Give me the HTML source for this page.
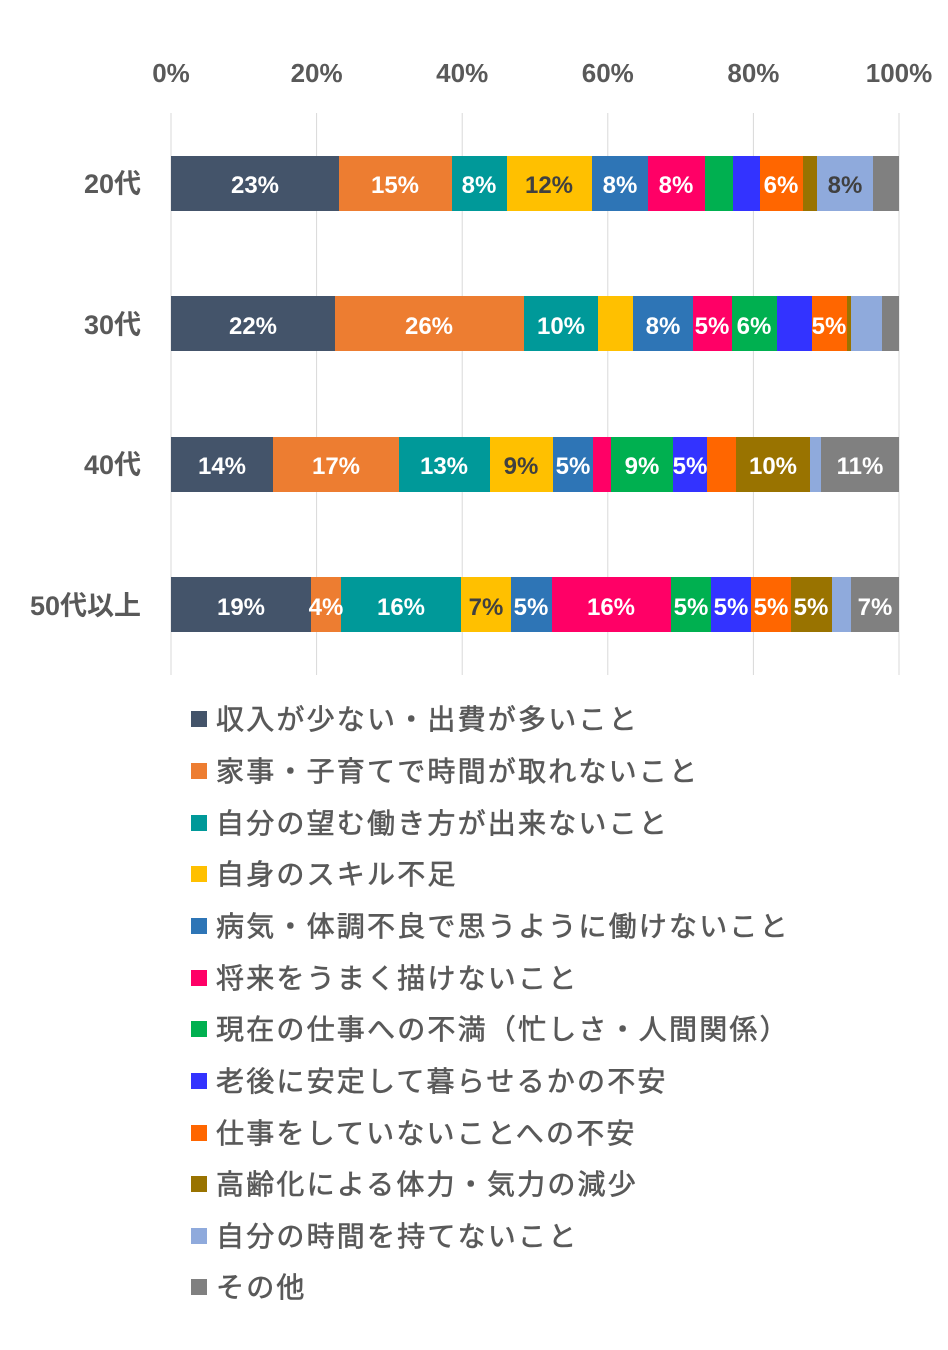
<!DOCTYPE html>
<html><head><meta charset="utf-8"><style>
body{margin:0;background:#fff;}
svg{display:block}
.ax{font-family:"Liberation Sans","Noto Sans CJK JP",sans-serif;font-weight:bold;fill:#595959;font-size:26px}
.bl{font-family:"Liberation Sans",sans-serif;font-weight:bold;font-size:24px;fill:#fff;text-anchor:middle}
.dk{fill:#404040}
.lg{font-family:"Noto Sans CJK JP",sans-serif;font-size:28px;fill:#595959;stroke:#595959;stroke-width:0.6px;letter-spacing:2.2px}
</style></head><body>
<svg width="948" height="1350" xmlns="http://www.w3.org/2000/svg">
<g stroke="#d9d9d9" stroke-width="1">
<line x1="171" y1="113" x2="171" y2="675"/><line x1="316.6" y1="113" x2="316.6" y2="675"/><line x1="462.2" y1="113" x2="462.2" y2="675"/><line x1="607.8" y1="113" x2="607.8" y2="675"/><line x1="753.4" y1="113" x2="753.4" y2="675"/><line x1="899" y1="113" x2="899" y2="675"/>
</g>
<g class="ax" text-anchor="middle">
<text x="171" y="82">0%</text><text x="316.6" y="82">20%</text><text x="462.2" y="82">40%</text><text x="607.8" y="82">60%</text><text x="753.4" y="82">80%</text><text x="899" y="82">100%</text>
</g>
<g class="ax" text-anchor="end" style="font-size:27px">
<text x="141" y="193">20代</text><text x="141" y="334">30代</text><text x="141" y="474">40代</text><text x="141" y="615">50代以上</text>
</g>
<!-- row1 -->
<g>
<rect x="171" y="156" width="168" height="55" fill="#44546a"/>
<rect x="339" y="156" width="113" height="55" fill="#ed7d31"/>
<rect x="452" y="156" width="55" height="55" fill="#009999"/>
<rect x="507" y="156" width="85" height="55" fill="#ffc000"/>
<rect x="592" y="156" width="56" height="55" fill="#2e75b6"/>
<rect x="648" y="156" width="57" height="55" fill="#ff0066"/>
<rect x="705" y="156" width="28" height="55" fill="#00b050"/>
<rect x="733" y="156" width="27" height="55" fill="#3333ff"/>
<rect x="760" y="156" width="43" height="55" fill="#ff6600"/>
<rect x="803" y="156" width="14" height="55" fill="#997300"/>
<rect x="817" y="156" width="56" height="55" fill="#8faadc"/>
<rect x="873" y="156" width="26" height="55" fill="#808080"/>
<text class="bl" x="255" y="193">23%</text><text class="bl" x="395" y="193">15%</text><text class="bl" x="479" y="193">8%</text><text class="bl dk" x="549" y="193">12%</text><text class="bl" x="620" y="193">8%</text><text class="bl" x="676" y="193">8%</text><text class="bl" x="781" y="193">6%</text><text class="bl dk" x="845" y="193">8%</text>
</g>
<!-- row2 -->
<g>
<rect x="171" y="296" width="164" height="55" fill="#44546a"/>
<rect x="335" y="296" width="189" height="55" fill="#ed7d31"/>
<rect x="524" y="296" width="74" height="55" fill="#009999"/>
<rect x="598" y="296" width="35" height="55" fill="#ffc000"/>
<rect x="633" y="296" width="60" height="55" fill="#2e75b6"/>
<rect x="693" y="296" width="39" height="55" fill="#ff0066"/>
<rect x="732" y="296" width="45" height="55" fill="#00b050"/>
<rect x="777" y="296" width="35" height="55" fill="#3333ff"/>
<rect x="812" y="296" width="35" height="55" fill="#ff6600"/>
<rect x="847" y="296" width="4" height="55" fill="#997300"/>
<rect x="851" y="296" width="31" height="55" fill="#8faadc"/>
<rect x="882" y="296" width="17" height="55" fill="#808080"/>
<text class="bl" x="253" y="334">22%</text><text class="bl" x="429" y="334">26%</text><text class="bl" x="561" y="334">10%</text><text class="bl" x="663" y="334">8%</text><text class="bl" x="712" y="334">5%</text><text class="bl" x="754" y="334">6%</text><text class="bl" x="829" y="334">5%</text>
</g>
<!-- row3 -->
<g>
<rect x="171" y="437" width="102" height="55" fill="#44546a"/>
<rect x="273" y="437" width="126" height="55" fill="#ed7d31"/>
<rect x="399" y="437" width="91" height="55" fill="#009999"/>
<rect x="490" y="437" width="63" height="55" fill="#ffc000"/>
<rect x="553" y="437" width="40" height="55" fill="#2e75b6"/>
<rect x="593" y="437" width="18" height="55" fill="#ff0066"/>
<rect x="611" y="437" width="62" height="55" fill="#00b050"/>
<rect x="673" y="437" width="34" height="55" fill="#3333ff"/>
<rect x="707" y="437" width="29" height="55" fill="#ff6600"/>
<rect x="736" y="437" width="74" height="55" fill="#997300"/>
<rect x="810" y="437" width="11" height="55" fill="#8faadc"/>
<rect x="821" y="437" width="78" height="55" fill="#808080"/>
<text class="bl" x="222" y="474">14%</text><text class="bl" x="336" y="474">17%</text><text class="bl" x="444" y="474">13%</text><text class="bl dk" x="521" y="474">9%</text><text class="bl" x="573" y="474">5%</text><text class="bl" x="642" y="474">9%</text><text class="bl" x="690" y="474">5%</text><text class="bl" x="773" y="474">10%</text><text class="bl" x="860" y="474">11%</text>
</g>
<!-- row4 -->
<g>
<rect x="171" y="577" width="140" height="55" fill="#44546a"/>
<rect x="311" y="577" width="30" height="55" fill="#ed7d31"/>
<rect x="341" y="577" width="120" height="55" fill="#009999"/>
<rect x="461" y="577" width="50" height="55" fill="#ffc000"/>
<rect x="511" y="577" width="41" height="55" fill="#2e75b6"/>
<rect x="552" y="577" width="119" height="55" fill="#ff0066"/>
<rect x="671" y="577" width="40" height="55" fill="#00b050"/>
<rect x="711" y="577" width="40" height="55" fill="#3333ff"/>
<rect x="751" y="577" width="40" height="55" fill="#ff6600"/>
<rect x="791" y="577" width="41" height="55" fill="#997300"/>
<rect x="832" y="577" width="19" height="55" fill="#8faadc"/>
<rect x="851" y="577" width="48" height="55" fill="#808080"/>
<text class="bl" x="241" y="615">19%</text><text class="bl" x="326" y="615">4%</text><text class="bl" x="401" y="615">16%</text><text class="bl dk" x="486" y="615">7%</text><text class="bl" x="531" y="615">5%</text><text class="bl" x="611" y="615">16%</text><text class="bl" x="691" y="615">5%</text><text class="bl" x="731" y="615">5%</text><text class="bl" x="771" y="615">5%</text><text class="bl" x="811" y="615">5%</text><text class="bl" x="875" y="615">7%</text>
</g>
<!-- legend -->
<g>
<rect x="191" y="711" width="16" height="16" fill="#44546a"/><text class="lg" x="216" y="729">収入が少ない・出費が多いこと</text>
<rect x="191" y="763" width="16" height="16" fill="#ed7d31"/><text class="lg" x="216" y="781">家事・子育てで時間が取れないこと</text>
<rect x="191" y="815" width="16" height="16" fill="#009999"/><text class="lg" x="216" y="833">自分の望む働き方が出来ないこと</text>
<rect x="191" y="866" width="16" height="16" fill="#ffc000"/><text class="lg" x="216" y="884">自身のスキル不足</text>
<rect x="191" y="918" width="16" height="16" fill="#2e75b6"/><text class="lg" x="216" y="936">病気・体調不良で思うように働けないこと</text>
<rect x="191" y="970" width="16" height="16" fill="#ff0066"/><text class="lg" x="216" y="988">将来をうまく描けないこと</text>
<rect x="191" y="1021" width="16" height="16" fill="#00b050"/><text class="lg" x="216" y="1039">現在の仕事への不満（忙しさ・人間関係）</text>
<rect x="191" y="1073" width="16" height="16" fill="#3333ff"/><text class="lg" x="216" y="1091">老後に安定して暮らせるかの不安</text>
<rect x="191" y="1125" width="16" height="16" fill="#ff6600"/><text class="lg" x="216" y="1143">仕事をしていないことへの不安</text>
<rect x="191" y="1176" width="16" height="16" fill="#997300"/><text class="lg" x="216" y="1194">高齢化による体力・気力の減少</text>
<rect x="191" y="1228" width="16" height="16" fill="#8faadc"/><text class="lg" x="216" y="1246">自分の時間を持てないこと</text>
<rect x="191" y="1279" width="16" height="16" fill="#808080"/><text class="lg" x="216" y="1297">その他</text>
</g>
</svg>
</body></html>
